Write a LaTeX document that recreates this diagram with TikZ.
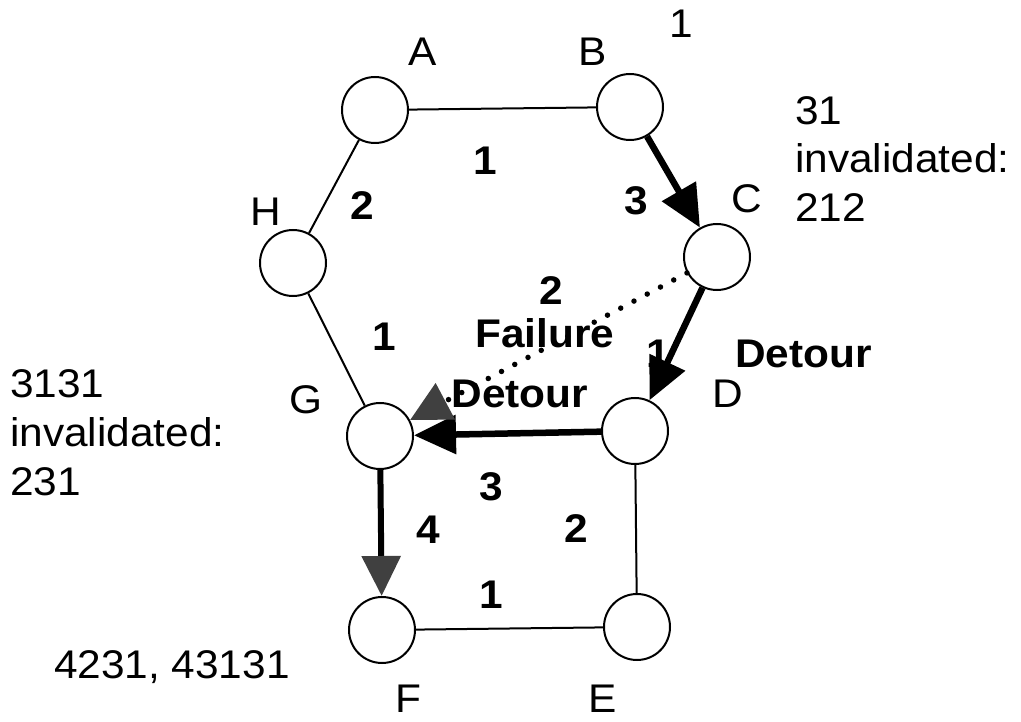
\documentclass[tikz,border=0pt]{standalone}
\usepackage{fontspec}
\setmainfont{Liberation Sans}[FakeStretch=1.06]
\usetikzlibrary{arrows.meta}
\begin{document}
\begin{tikzpicture}[x=1pt,y=-1pt,
  nd/.style={circle,draw,line width=2pt,minimum size=66pt,inner sep=0pt},
  lbl/.style={font=\fontsize{40}{48}\selectfont,anchor=base,inner sep=0pt},
  lblw/.style={lbl,anchor=base west},
  num/.style={font=\fontsize{40}{48}\selectfont\bfseries,anchor=base,inner sep=0pt},
  plain edge/.style={line width=2pt},
  bigarrow/.style={line width=6.5pt,-{Triangle[length=42pt,width=38pt]}},
  grayarrow/.style={line width=6pt,-{Triangle[length=40pt,width=38pt,fill=black!75,color=black!75]}},
  dotarrow/.style={line width=5.5pt,line cap=round,dash pattern=on 0pt off 15pt,
     -{Triangle[length=40pt,width=40pt,fill=black!75,color=black!75,line cap=butt]}}]
\useasboundingbox (0,0) rectangle (1021,722);
% nodes
\node[nd] (A) at (375,110) {};
\node[nd] (B) at (630,107) {};
\node[nd] (C) at (717,257) {};
\node[nd] (H) at (293,263) {};
\node[nd] (G) at (380,436) {};
\node[nd] (D) at (635,431) {};
\node[nd] (F) at (382,630) {};
\node[nd] (E) at (637,627) {};
% node labels
\node[lbl] (lA) at (423,66) {A};
\node[lbl] (lB) at (593,66) {B};
\node[lbl] (lB1) at (681,38) {1};
\node[lbl] (lC) at (747,213) {C};
\node[lbl] (lH) at (266,226) {H};
\node[lbl] (lG) at (306,413) {G};
\node[lbl] (lD) at (728,407) {D};
\node[lbl] (lF) at (408,712) {F};
\node[lbl] (lE) at (603,712) {E};
% annotation texts
\node[lblw] (c1) at (795,125) {31};
\node[lblw] (c2) at (795,173) {invalidated:};
\node[lblw] (c3) at (795,222) {212};
\node[lblw] (g1) at (10,397) {3131};
\node[lblw] (g2) at (10,446) {invalidated:};
\node[lblw] (g3) at (10,495) {231};
\node[lbl,anchor=base east] (f1) at (290,678) {4231, 43131};
% edge weights
\node[num] (wAB) at (485,175) {1};
\node[num] (wAH) at (362,220) {2};
\node[num] (wBC) at (636,215) {3};
\node[num] (wCG) at (551,305) {2};
\node[num] (fail) at (545,348) {Failure};
\node[num] (wHG) at (384,350) {1};
\node[num] (wCD) at (658,367) {1};
\node[num] (det1) at (520,407) {Detour};
\node[num,anchor=base west] (det2) at (735,367) {Detour};
\node[num] (wDG) at (491,500) {3};
\node[num] (wGF) at (428,543) {4};
\node[num] (wDE) at (576,542) {2};
\node[num] (wFE) at (491,608) {1};
% edges
\draw[plain edge] (A) -- (B);
\draw[plain edge] (A) -- (H);
\draw[plain edge] (H) -- (G);
\draw[plain edge] (D) -- (E);
\draw[plain edge] (F) -- (E);
\draw[bigarrow] (B) -- (C);
\draw[bigarrow] (C) -- (D);
\draw[bigarrow] (D) -- (G);
\draw[grayarrow] (G) -- (F);
\draw[dotarrow] (C) -- (G);
\end{tikzpicture}
\end{document}
